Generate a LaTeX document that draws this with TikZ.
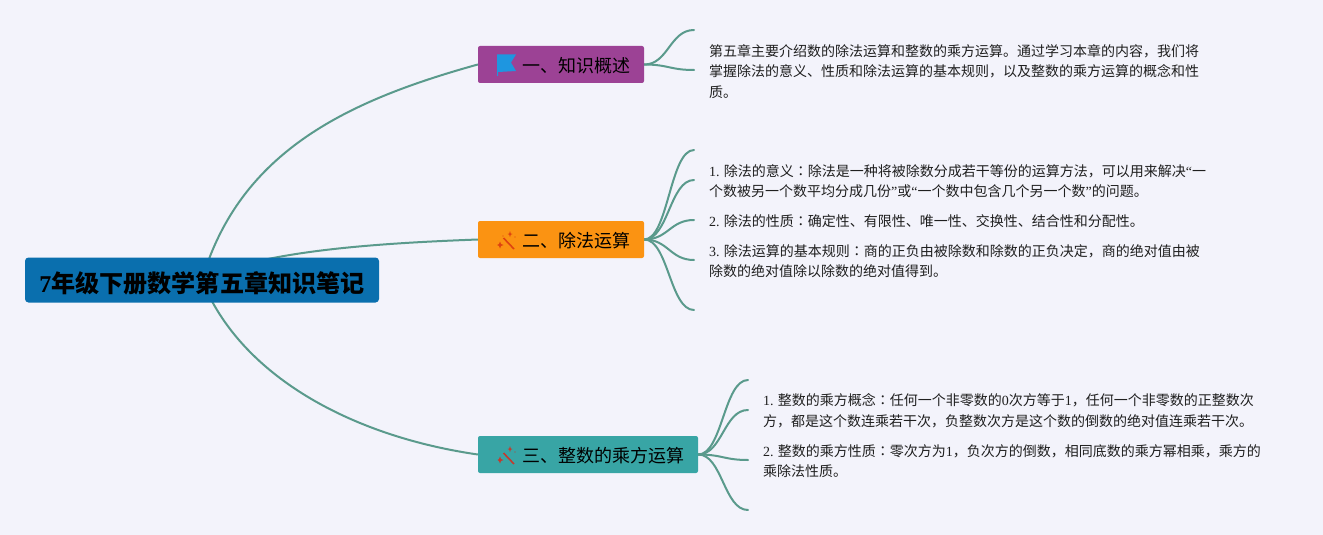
\documentclass[tikz,border=0pt]{standalone}
\usepackage{fontspec}
\usetikzlibrary{backgrounds}
\setmainfont{Noto Sans CJK SC}
\newfontfamily\lat{Liberation Serif}
\newfontfamily\tcf{Noto Sans CJK TC}
\newcommand{\cln}{{\tcf ：}}
\newcommand{\nm}[1]{{\lat #1}}
\definecolor{bgc}{HTML}{F3F3FB}
\definecolor{linec}{HTML}{5A9A8C}
\definecolor{rootc}{HTML}{0A6FAE}
\definecolor{ac}{HTML}{9C4295}
\definecolor{bc}{HTML}{FB9312}
\definecolor{cc}{HTML}{38A5A5}
\definecolor{flagc}{HTML}{1E96E0}
\definecolor{wandb}{HTML}{DE4310}
\definecolor{wandc}{HTML}{C23A2E}
\tikzset{
  conn/.style={draw=linec,line width=2pt,line cap=round},
  rootbox/.style={fill=rootc,rounded corners=3.5pt,inner sep=0pt,minimum width=354pt,minimum height=45pt,text=black,text height=25pt,text depth=0pt},
  branchbox/.style={rounded corners=2pt,inner sep=0pt,minimum height=37pt,text=black,text height=15.6pt,text depth=0pt,font=\fontsize{18}{18}\selectfont},
  para/.style={anchor=north west,inner sep=0pt,align=left,text=black!88,font=\fontsize{14}{20.8}\selectfont},
}
\begin{document}
\begin{tikzpicture}[x=1pt,y=-1pt]
\useasboundingbox (0,0) rectangle (1323,535);
% boxes
\node[rootbox] (root) at (202,280) {\fontsize{24.1}{24}\selectfont\bfseries{\lat 7}年级下册数学第五章知识笔记};
\node[branchbox,fill=ac,minimum width=166pt] (A) at (561,64.5) {\makebox[166pt][l]{\hspace{44pt}一、知识概述}};
\node[branchbox,fill=bc,minimum width=166pt] (B) at (561,239.5) {\makebox[166pt][l]{\hspace{44pt}二、除法运算}};
\node[branchbox,fill=cc,minimum width=220pt] (C) at (588,454.5) {\makebox[220pt][l]{\hspace{44pt}三、整数的乘方运算}};
% free ends
\coordinate (a1) at (694,30);
\coordinate (a2) at (694,70);
\coordinate (b1) at (694,150);
\coordinate (b2) at (694,180);
\coordinate (b3) at (694,220);
\coordinate (b4) at (694,260);
\coordinate (b5) at (694,310);
\coordinate (c1) at (748,380);
\coordinate (c2) at (748,410);
\coordinate (c3) at (748,460);
\coordinate (c4) at (748,510);
\begin{scope}[on background layer]
\fill[bgc] (0,0) rectangle (1323,535);
\draw[conn] (root.center) .. controls (240,150) and (350,100) .. (A.west);
\draw[conn] (root.center) .. controls (260,250) and (385,243) .. (B.west);
\draw[conn] (root.center) .. controls (240,375) and (350,436) .. (C.west);
\foreach \e in {a1,a2}{\draw[conn] (A.east) .. controls +(24,0) and +(-24,0) .. (\e);}
\foreach \e in {b1,b2,b3,b4,b5}{\draw[conn] (B.east) .. controls +(24,0) and +(-24,0) .. (\e);}
\foreach \e in {c1,c2,c3,c4}{\draw[conn] (C.east) .. controls +(24,0) and +(-24,0) .. (\e);}
\end{scope}
% flag icon
\fill[flagc] (497,54.5) -- (516,54.5) -- (511,62.5) -- (516,71) -- (498,72) -- (498,76) -- (497,76) -- cycle;
% wand icons
\draw[wandb,line width=1.6pt] (503.5,238) -- (514,249);
\fill[wandb] (500,241.5) -- (501,244) -- (503.5,245) -- (501,246) -- (500,248.5) -- (499,246) -- (497,245) -- (499,244) -- cycle;
\fill[wandb] (510,231) -- (510.8,233.5) -- (512.5,234) -- (510.8,234.8) -- (510,237) -- (509.2,234.8) -- (507.5,234) -- (509.2,233.5) -- cycle;
\fill[wandb] (515,237) circle (.7pt) (503,236) circle (.6pt);
\draw[wandc,line width=1.6pt] (503.5,453) -- (514,464);
\fill[wandc] (500,456.5) -- (501,459) -- (503.5,460) -- (501,461) -- (500,463.5) -- (499,461) -- (497.5,460) -- (499,459) -- cycle;
\fill[wandc] (510,446) -- (510.8,448.5) -- (512.5,449) -- (510.8,449.8) -- (510,452) -- (509.2,449.8) -- (507.5,449) -- (509.2,448.5) -- cycle;
\fill[wandc] (515,452) circle (.7pt);
% text
\node[para] (t1) at (709,44) {第五章主要介绍数的除法运算和整数的乘方运算。通过学习本章的内容，我们将\\掌握除法的意义、性质和除法运算的基本规则，以及整数的乘方运算的概念和性\\质。};
\node[para] (t2) at (709,164) {\nm{1.} 除法的意义\cln 除法是一种将被除数分成若干等份的运算方法，可以用来解决\nm{“}一\\个数被另一个数平均分成几份\nm{”}或\nm{“}一个数中包含几个另一个数\nm{”}的问题。};
\node[para] (t3) at (709,214) {\nm{2.} 除法的性质\cln 确定性、有限性、唯一性、交换性、结合性和分配性。};
\node[para] (t4) at (709,244) {\nm{3.} 除法运算的基本规则\cln 商的正负由被除数和除数的正负决定，商的绝对值由被\\除数的绝对值除以除数的绝对值得到。};
\node[para] (t5) at (763,393) {\nm{1.} 整数的乘方概念\cln 任何一个非零数的\nm{0}次方等于\nm{1}，任何一个非零数的正整数次\\方，都是这个数连乘若干次，负整数次方是这个数的倒数的绝对值连乘若干次。};
\node[para] (t6) at (763,444) {\nm{2.} 整数的乘方性质\cln 零次方为\nm{1}，负次方的倒数，相同底数的乘方幂相乘，乘方的\\乘除法性质。};
\end{tikzpicture}
\end{document}
